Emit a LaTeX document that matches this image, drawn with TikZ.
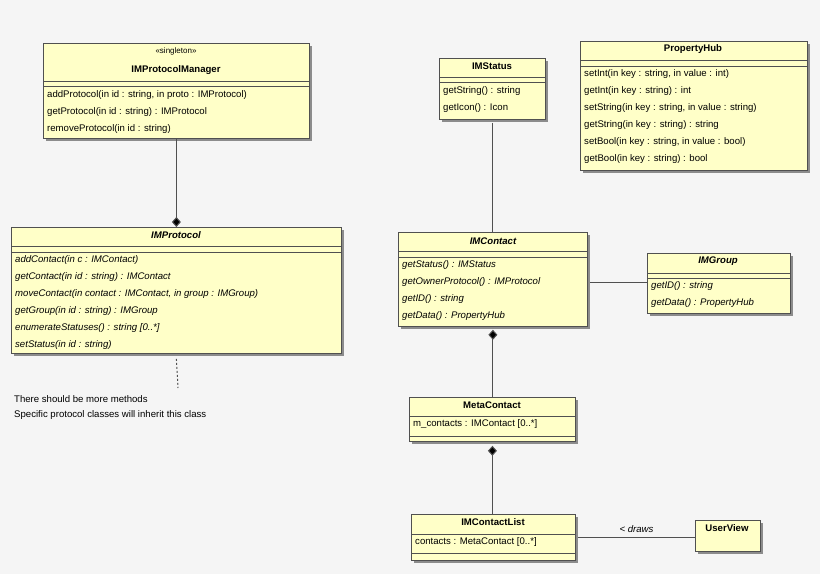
\documentclass[tikz,border=0pt]{standalone}
\usepackage{fontspec}
\setmainfont{Liberation Sans}
\usetikzlibrary{shadows,shapes.geometric,arrows.meta}
\definecolor{bg}{RGB}{245,245,245}
\definecolor{boxfill}{RGB}{255,255,200}
\definecolor{edge}{RGB}{80,80,80}
\tikzset{
  box/.style={draw=edge,fill=boxfill,anchor=north west,inner sep=0pt,line width=0.8pt,
    drop shadow={shadow xshift=2.5pt,shadow yshift=-2.5pt,fill=black!45,opacity=1}},
  txt/.style={anchor=west,inner sep=0pt,font=\fontsize{9.6}{10}\selectfont},
  ital/.style={txt,font=\fontsize{9.6}{10}\selectfont\itshape},
  ttl/.style={inner sep=0pt,font=\fontsize{9.6}{10}\selectfont\bfseries},
  ttli/.style={inner sep=0pt,font=\fontsize{9.6}{10}\selectfont\bfseries\itshape},
  sep/.style={draw=edge,line width=0.8pt},
  conn/.style={draw=edge,line width=1pt},
  comp/.style={conn,{Diamond[fill=black,length=10pt,width=9pt]}-}
}
\begin{document}
\begin{tikzpicture}[x=1pt,y=-1pt]
\fill[bg] (0,0) rectangle (820,574);
\useasboundingbox (0,0) rectangle (820,574);
% IMProtocolManager
\node[box,minimum width=266pt,minimum height=95pt] (mgr) at (43,43) {};
\node[txt,anchor=center,font=\fontsize{8}{9}\selectfont] at (176,51) {\textless\textless singleton\textgreater\textgreater};
\node[ttl] at (176,70) {IMProtocolManager};
\draw[sep] (43,81) -- (309,81) (43,86) -- (309,86);
\node[txt] at (47,95) {addProtocol(in id : string, in proto : IMProtocol)};
\node[txt] at (47,112) {getProtocol(in id : string) : IMProtocol};
\node[txt] at (47,129) {removeProtocol(in id : string)};
% IMProtocol
\node[box,minimum width=330pt,minimum height=126pt] (proto) at (11,227) {};
\node[ttli] at (176,235) {IMProtocol};
\draw[sep] (11,246) -- (341,246) (11,252) -- (341,252);
\node[ital] at (15,260) {addContact(in c : IMContact)};
\node[ital] at (15,277) {getContact(in id : string) : IMContact};
\node[ital] at (15,294) {moveContact(in contact : IMContact, in group : IMGroup)};
\node[ital] at (15,311) {getGroup(in id : string) : IMGroup};
\node[ital] at (15,328) {enumerateStatuses() : string [0..*]};
\node[ital] at (15,345) {setStatus(in id : string)};
\draw[comp] (proto.north) -- (mgr.south);
% note
\coordinate (noteTop) at (178,388);
\draw[edge,line width=1pt,dash pattern=on 2pt off 2pt] (proto.south) ++(0,5) -- (noteTop);
\node[txt] (note1) at (14,399) {There should be more methods};
\node[txt] (note2) at (14,415) {Specific protocol classes will inherit this class};
% IMStatus
\node[box,minimum width=106pt,minimum height=61pt] (status) at (439,58) {};
\node[ttl] at (492,66) {IMStatus};
\draw[sep] (439,77) -- (545,77) (439,82) -- (545,82);
\node[txt] at (443,91) {getString() : string};
\node[txt] at (443,108) {getIcon() : Icon};
% PropertyHub
\node[box,minimum width=227pt,minimum height=129pt] (hub) at (580,41) {};
\node[ttl] at (693,49) {PropertyHub};
\draw[sep] (580,60) -- (807,60) (580,66) -- (807,66);
\node[txt] at (584,74) {setInt(in key : string, in value : int)};
\node[txt] at (584,91) {getInt(in key : string) : int};
\node[txt] at (584,108) {setString(in key : string, in value : string)};
\node[txt] at (584,125) {getString(in key : string) : string};
\node[txt] at (584,142) {setBool(in key : string, in value : bool)};
\node[txt] at (584,159) {getBool(in key : string) : bool};
% IMContact
\node[box,minimum width=189pt,minimum height=94pt] (contact) at (398,232) {};
\node[ttli] at (493,241) {IMContact};
\draw[sep] (398,251) -- (587,251) (398,257) -- (587,257);
\node[ital] at (402,265) {getStatus() : IMStatus};
\node[ital] at (402,282) {getOwnerProtocol() : IMProtocol};
\node[ital] at (402,299) {getID() : string};
\node[ital] at (402,316) {getData() : PropertyHub};
\draw[conn] (status.south) ++(0,3) -- (contact.north -| status.south);
% IMGroup
\node[box,minimum width=143pt,minimum height=60pt] (group) at (647,253) {};
\node[ttli] at (718,261) {IMGroup};
\draw[sep] (647,273) -- (790,273) (647,278) -- (790,278);
\node[ital] at (651,286) {getID() : string};
\node[ital] at (651,303) {getData() : PropertyHub};
\coordinate (cR) at (590,282);
\draw[conn] (cR) -- (group.west |- cR);
% MetaContact
\node[box,minimum width=166pt,minimum height=44pt] (meta) at (409,397) {};
\node[ttl] at (492,405) {MetaContact};
\draw[sep] (409,416) -- (575,416) (409,436) -- (575,436);
\node[txt] at (413,424) {m\_contacts : IMContact [0..*]};
\draw[comp] (contact.south) ++(0,3) -- (meta.north -| contact.south);
% IMContactList
\node[box,minimum width=164pt,minimum height=46pt] (list) at (411,514) {};
\node[ttl] at (493,522) {IMContactList};
\draw[sep] (411,534) -- (575,534) (411,553) -- (575,553);
\node[txt] at (415,542) {contacts : MetaContact [0..*]};
\draw[comp] (meta.south) ++(0,4) -- (list.north -| meta.south);
% UserView
\node[box,minimum width=65pt,minimum height=31pt] (view) at (695,520) {};
\node[ttl] at (727,528) {UserView};
\coordinate (lR) at (578,537);
\draw[conn] (lR) -- node[above=4pt,ital,anchor=south]{< draws} (view.west |- lR);
\end{tikzpicture}
\end{document}
